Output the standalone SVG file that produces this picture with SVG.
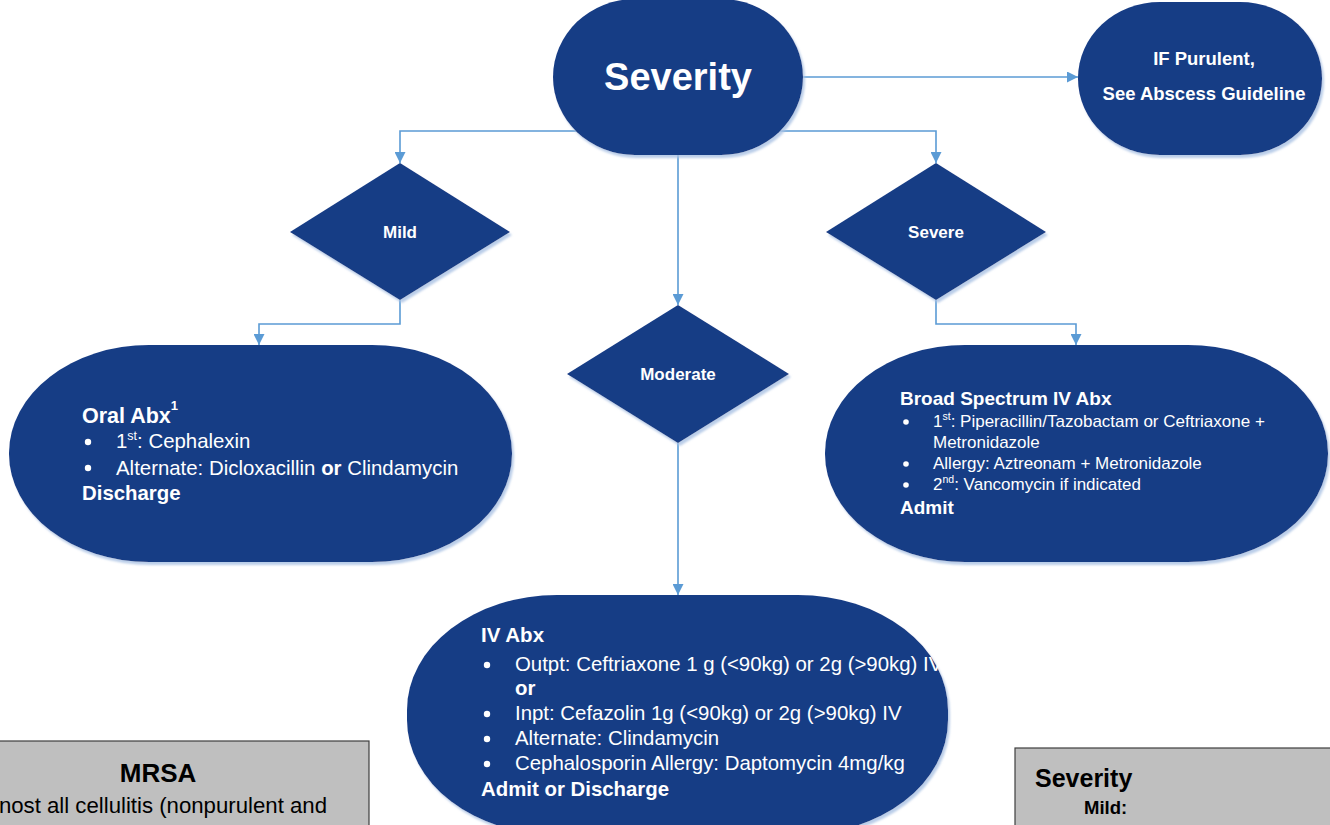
<svg xmlns="http://www.w3.org/2000/svg" width="1330" height="825" viewBox="0 0 1330 825">
<style>
.node{fill:#173c85;filter:url(#sh)}
.dia{fill:#173c85;filter:url(#sh)}
.conn{fill:none;stroke:#5b9bd5;stroke-width:1.6}
text{font-family:"Liberation Sans",Arial,sans-serif;fill:#ffffff}
.b{font-weight:bold}
.lbl{font-weight:bold;font-size:17px;text-anchor:middle}
.t1{font-size:20.4px}
.t2{font-size:17px}
.t3{font-size:20.4px}
.box{fill:#bfbfbf;stroke:#3f3f3f;stroke-width:1.2}
.dk{fill:#000000}
</style>
<defs>
<filter id="sh" x="-10%" y="-10%" width="120%" height="125%">
<feDropShadow dx="2" dy="3" stdDeviation="1.2" flood-color="#a9c1e3" flood-opacity="0.8"/>
</filter>
<marker id="ah" viewBox="0 0 10 10" refX="10" refY="5" markerWidth="11" markerHeight="11" markerUnits="userSpaceOnUse" orient="auto">
<path d="M0,0 L10,5 L0,10 Z" fill="#5b9bd5"/>
</marker>
</defs>

<g id="connectors">
<path class="conn" d="M803,77 H1078" marker-end="url(#ah)"/>
<path class="conn" d="M600,131 H400 V163" marker-end="url(#ah)"/>
<path class="conn" d="M760,131 H936 V163" marker-end="url(#ah)"/>
<path class="conn" d="M678,150 V305" marker-end="url(#ah)"/>
<path class="conn" d="M400,298 V324 H259 V345" marker-end="url(#ah)"/>
<path class="conn" d="M936,298 V324 H1076 V345" marker-end="url(#ah)"/>
<path class="conn" d="M678,440 V595" marker-end="url(#ah)"/>
</g>

<g id="severity">
<rect class="node" x="553" y="-1" width="250" height="156" rx="82" ry="78"/>
<text class="b" x="678" y="90" font-size="38" text-anchor="middle">Severity</text>
</g>

<g id="purulent">
<rect class="node" x="1078" y="2" width="244" height="153" rx="82" ry="76"/>
<text class="b" x="1204" y="65" font-size="18.5" text-anchor="middle">IF Purulent,</text>
<text class="b" x="1204" y="100" font-size="18.5" text-anchor="middle">See Abscess Guideline</text>
</g>

<g id="mild">
<polygon class="dia" points="400,163 510,232 400,300 290,232"/>
<text class="lbl" x="400" y="238">Mild</text>
</g>

<g id="severe">
<polygon class="dia" points="936,163 1046,232 936,300 826,232"/>
<text class="lbl" x="936" y="238">Severe</text>
</g>

<g id="moderate">
<polygon class="dia" points="678,305 789,374 678,443 567,374"/>
<text class="lbl" x="678" y="380">Moderate</text>
</g>

<g id="oral">
<rect class="node" x="9" y="345" width="503" height="217" rx="140" ry="108"/>
<text class="b" x="82" y="423" font-size="21.5">Oral Abx<tspan font-size="13" dy="-13">1</tspan></text>
<circle cx="88" cy="442" r="3.2" fill="#fff"/>
<text class="t1" x="116" y="448">1<tspan font-size="12.5" dy="-8">st</tspan><tspan dy="8">: Cephalexin</tspan></text>
<circle cx="88" cy="468" r="3.2" fill="#fff"/>
<text class="t1" x="116" y="475">Alternate: Dicloxacillin <tspan class="b">or</tspan> Clindamycin</text>
<text class="b t1" x="82" y="500">Discharge</text>
</g>

<g id="broad">
<rect class="node" x="825" y="345" width="503" height="217" rx="140" ry="108"/>
<text class="b" x="900" y="405" font-size="19">Broad Spectrum IV Abx</text>
<circle cx="906" cy="422" r="2.8" fill="#fff"/>
<text class="t2" x="933" y="427">1<tspan font-size="10.5" dy="-7">st</tspan><tspan dy="7">: Piperacillin/Tazobactam or Ceftriaxone +</tspan></text>
<text class="t2" x="933" y="448">Metronidazole</text>
<circle cx="906" cy="464" r="2.8" fill="#fff"/>
<text class="t2" x="933" y="469">Allergy: Aztreonam + Metronidazole</text>
<circle cx="906" cy="485" r="2.8" fill="#fff"/>
<text class="t2" x="933" y="490">2<tspan font-size="10.5" dy="-7">nd</tspan><tspan dy="7">: Vancomycin if indicated</tspan></text>
<text class="b" x="900" y="514" font-size="19">Admit</text>
</g>

<g id="iv">
<rect class="node" x="407" y="595" width="541" height="240" rx="150" ry="115"/>
<text class="b" x="481" y="642" font-size="20.5">IV Abx</text>
<circle cx="487" cy="665" r="3.2" fill="#fff"/>
<text class="t3" x="515" y="671">Outpt: Ceftriaxone 1 g (&lt;90kg) or 2g (&gt;90kg) IV</text>
<text class="b t3" x="515" y="695">or</text>
<circle cx="487" cy="714" r="3.2" fill="#fff"/>
<text class="t3" x="515" y="720">Inpt: Cefazolin 1g (&lt;90kg) or 2g (&gt;90kg) IV</text>
<circle cx="487" cy="739" r="3.2" fill="#fff"/>
<text class="t3" x="515" y="745">Alternate: Clindamycin</text>
<circle cx="487" cy="764" r="3.2" fill="#fff"/>
<text class="t3" x="515" y="770">Cephalosporin Allergy: Daptomycin 4mg/kg</text>
<text class="b t3" x="481" y="796">Admit or Discharge</text>
</g>

<g id="mrsa">
<rect class="box" x="-5" y="741" width="374" height="100"/>
<text class="b dk" x="158" y="782" font-size="26" text-anchor="middle">MRSA</text>
<text class="dk" x="327" y="813" font-size="22.2" text-anchor="end">nost all cellulitis (nonpurulent and</text>
</g>

<g id="severity-key">
<rect class="box" x="1015" y="748" width="330" height="100"/>
<text class="b dk" x="1035" y="787" font-size="25">Severity</text>
<text class="b dk" x="1084" y="814" font-size="18.5">Mild:</text>
</g>
</svg>
